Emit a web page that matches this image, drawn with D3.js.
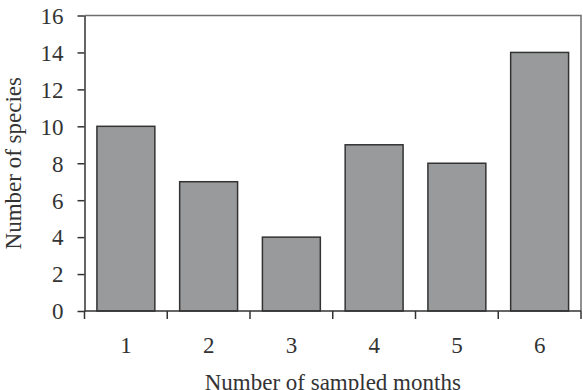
<!DOCTYPE html>
<html>
<head>
<meta charset="utf-8">
<script src="https://cdn.jsdelivr.net/npm/d3@7"></script>
<style>
body{margin:0;background:#fff;}
svg{display:block;}
</style>
</head>
<body>
<div id="chart"></div>
<script>
const months = ["1","2","3","4","5","6"];
const species = [10,7,4,9,8,14];
const yTicks = [0,2,4,6,8,10,12,14,16];

const width = 583;
const height = 390;
const margin = {top:15.5,right:2,bottom:79,left:84.5};

const svg = d3.select("#chart")
.append("svg")
.attr("width",width)
.attr("height",height);

const x = d3.scaleBand()
.domain(months)
.range([margin.left,width-margin.right])
.paddingInner(0.3)
.paddingOuter(0.15);

const y = d3.scaleLinear()
.domain([0,16])
.range([height-margin.bottom,margin.top]);

const font = "'Liberation Serif','Times New Roman',serif";

// frame top and right
svg.append("path")
.attr("d",`M${margin.left},${margin.top}H${width-margin.right}V${y(0)}`)
.attr("fill","none")
.attr("stroke","#6e6e6e")
.attr("stroke-width",1.5);

// bars
svg.selectAll("rect.bar")
.data(species)
.enter()
.append("rect")
.attr("class","bar")
.attr("x",(d,i)=>x(months[i]))
.attr("y",d=>y(d))
.attr("width",x.bandwidth())
.attr("height",d=>y(0)-y(d))
.attr("fill","#999a9b")
.attr("stroke","#333")
.attr("stroke-width",1.5);

// y axis
const yAxis = svg.append("g")
.attr("transform",`translate(${margin.left},0)`)
.call(d3.axisLeft(y).tickValues(yTicks).tickSize(7).tickSizeOuter(0).tickPadding(14));
yAxis.select(".domain").attr("stroke","#333").attr("stroke-width",1.5);
yAxis.selectAll(".tick line").attr("stroke","#333").attr("stroke-width",1.5);
yAxis.selectAll("text")
.attr("font-family",font)
.attr("font-size","23px")
.attr("fill","#333")
.attr("dy","0.34em");

// x axis: ticks sit between the bars
const bounds = d3.range(months.length+1).map(i=>margin.left+i*x.step());
const xAxis = svg.append("g")
.attr("transform",`translate(0,${y(0)})`);
xAxis.append("line")
.attr("x1",margin.left).attr("x2",width-margin.right)
.attr("stroke","#333").attr("stroke-width",1.5);
xAxis.selectAll("line.tick")
.data(bounds)
.enter()
.append("line")
.attr("class","tick")
.attr("x1",d=>d).attr("x2",d=>d)
.attr("y1",0).attr("y2",8)
.attr("stroke","#333").attr("stroke-width",1.5);
xAxis.selectAll("text")
.data(months)
.enter()
.append("text")
.attr("x",d=>x(d)+x.bandwidth()/2)
.attr("y",42)
.attr("text-anchor","middle")
.attr("font-family",font)
.attr("font-size","23px")
.attr("fill","#333")
.text(d=>d);

// x label
svg.append("text")
.attr("x",(margin.left+width-margin.right)/2)
.attr("y",390)
.attr("text-anchor","middle")
.attr("font-family",font)
.attr("font-size","23px")
.attr("fill","#333")
.text("Number of sampled months");

// y label
svg.append("text")
.attr("transform","rotate(-90)")
.attr("x",-(margin.top+y(0))/2)
.attr("y",21)
.attr("text-anchor","middle")
.attr("font-family",font)
.attr("font-size","23px")
.attr("fill","#333")
.text("Number of species");
</script>
</body>
</html>
